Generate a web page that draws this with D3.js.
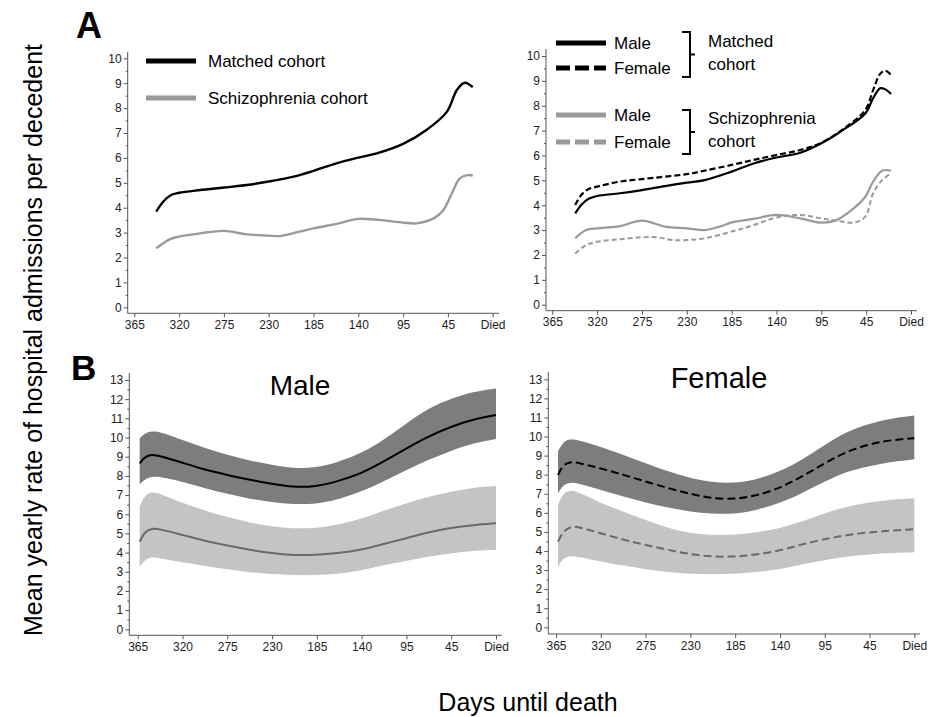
<!DOCTYPE html>
<html>
<head>
<meta charset="utf-8">
<script src="https://cdn.jsdelivr.net/npm/d3@7/dist/d3.min.js"></script>
<style>
  body { margin: 0; background: #fff; }
  svg { display: block; font-family: "Liberation Sans", Arial, Helvetica, sans-serif; }
  .tick text { fill: #222; font-size: 12px; }
  .tick line { stroke: #555; }
</style>
</head>
<body>
<div class="content"></div>
<script>
// tick labels (days until death), "Died" = 0
var dayTicks = [365, 320, 275, 230, 185, 140, 95, 45, 0];

// ---- panel A, left: both sexes
var matchedDaysA = [343,336,328,320,299,275,252,230,205,185,162,140,119,95,69,46,36,28,20];
var matchedA     = [3.84,4.24,4.51,4.60,4.71,4.81,4.91,5.05,5.25,5.48,5.78,6.01,6.21,6.56,7.12,7.86,8.73,9.02,8.84];
var schizDaysA   = [343,329,320,299,275,252,230,219,199,185,162,140,119,95,80,61,50,41,33,25,20];
var schizA       = [2.37,2.74,2.84,2.97,3.07,2.93,2.88,2.86,3.04,3.17,3.35,3.55,3.51,3.40,3.37,3.57,3.91,4.58,5.18,5.31,5.29];

// ---- panel A, right: by sex
var matchedDaysR   = [342,336,329,320,297,275,252,230,212,185,163,140,116,95,71,46,38,31,26,20];
var matchedMaleR   = [3.67,4.01,4.25,4.37,4.48,4.61,4.77,4.91,5.01,5.35,5.68,5.92,6.11,6.49,7.02,7.69,8.30,8.70,8.66,8.47];
var matchedFemaleR = [4.01,4.41,4.64,4.75,4.95,5.05,5.15,5.25,5.39,5.62,5.82,6.02,6.22,6.51,7.05,7.83,8.63,9.28,9.41,9.24];
var schizMaleDaysR = [342,331,320,297,275,252,230,212,197,185,163,140,116,95,78,59,46,38,29,20];
var schizMaleR     = [2.67,3.00,3.07,3.16,3.38,3.14,3.07,3.00,3.14,3.31,3.45,3.61,3.47,3.30,3.40,3.87,4.34,4.95,5.39,5.39];
var schizFemDaysR  = [342,331,320,297,275,260,244,230,212,185,163,140,116,95,78,59,46,38,29,20];
var schizFemaleR   = [2.06,2.40,2.53,2.63,2.71,2.71,2.60,2.60,2.67,2.94,3.20,3.51,3.61,3.47,3.38,3.30,3.54,4.48,5.01,5.28];

// ---- panel B: modelled rates with confidence bands
var daysB = [363,358,351,343,320,297,275,252,230,209,186,165,140,118,95,71,45,23,0];
var maleMatched     = [8.65,9.00,9.12,9.05,8.69,8.31,8.05,7.79,7.58,7.41,7.44,7.70,8.13,8.74,9.44,10.05,10.57,10.95,11.17];
var maleMatchedHi   = [9.96,10.22,10.34,10.31,9.87,9.44,9.09,8.79,8.57,8.39,8.43,8.69,9.18,9.87,10.74,11.52,12.04,12.39,12.56];
var maleMatchedLo   = [7.56,7.82,7.96,7.96,7.70,7.35,7.06,6.80,6.62,6.52,6.53,6.74,7.18,7.70,8.31,8.83,9.32,9.70,9.92];
var maleSchiz       = [4.57,5.09,5.27,5.23,4.92,4.61,4.36,4.14,3.96,3.86,3.87,3.96,4.14,4.45,4.75,5.06,5.30,5.44,5.53];
var maleSchizHi     = [6.40,7.00,7.18,7.09,6.57,6.19,5.84,5.56,5.35,5.25,5.27,5.44,5.75,6.19,6.57,6.92,7.18,7.39,7.47];
var maleSchizLo     = [3.27,3.61,3.79,3.70,3.49,3.30,3.13,2.97,2.87,2.82,2.82,2.87,3.06,3.35,3.56,3.79,3.96,4.10,4.14];
var femaleMatched   = [7.99,8.51,8.68,8.63,8.33,7.99,7.64,7.29,6.99,6.76,6.71,6.88,7.29,7.90,8.60,9.21,9.61,9.82,9.91];
var femaleMatchedHi = [9.21,9.73,9.87,9.82,9.47,9.03,8.60,8.16,7.81,7.60,7.55,7.72,8.16,8.77,9.56,10.26,10.69,10.96,11.10];
var femaleMatchedLo = [7.02,7.46,7.60,7.55,7.20,6.85,6.54,6.27,6.06,5.94,5.94,6.12,6.50,7.02,7.64,8.16,8.46,8.68,8.81];
var femaleSchiz     = [4.49,5.01,5.28,5.28,4.93,4.58,4.32,4.05,3.83,3.70,3.70,3.79,4.02,4.35,4.63,4.84,4.98,5.07,5.14];
var femaleSchizHi   = [6.41,7.02,7.20,7.11,6.50,6.06,5.63,5.19,4.93,4.84,4.84,4.96,5.19,5.54,5.98,6.33,6.55,6.71,6.76];
var femaleSchizLo   = [3.18,3.62,3.76,3.70,3.44,3.23,3.04,2.88,2.80,2.78,2.80,2.88,3.04,3.30,3.53,3.70,3.83,3.91,3.93];

var black = "#000", grey = "#9a9a9a", darkBand = "#7d7d7d", lightBand = "#c4c4c4", bandLine = "#6a6a6a";

var svg = d3.select(".content").append("svg").attr("width", 933).attr("height", 717);
svg.append("rect").attr("width", 933).attr("height", 717).attr("fill", "#fff");

function pairs(xs, ys){
	return xs.map(function(d, i){ return [d, ys[i]]; });
}

// draws axes of one panel, returns its scales
function drawPanel(p){
	var step = (p.xDied - p.x365) / (dayTicks.length - 1);
	var x = d3.scaleLinear().domain(dayTicks).range(dayTicks.map(function(d, i){ return p.x365 + i*step; }));
	var y = d3.scaleLinear().domain([0, p.yMax]).range([p.yZero, p.yTopPx]);
	var g = svg.append("g");

	// y axis
	var ya = g.append("g").attr("transform", "translate(" + p.axisX + ",0)");
	ya.call(d3.axisLeft(y).tickValues(d3.range(0, p.yMax + 1)).tickSize(4).tickSizeOuter(0).tickPadding(2));
	ya.append("g").call(d3.axisLeft(y).tickValues(d3.range(0.5, p.yMax, 1)).tickSize(2).tickFormat(""));
	ya.selectAll(".domain").remove();
	ya.append("line").attr("y1", p.axisTop).attr("y2", p.axisY).attr("stroke", "#555");

	// x axis
	var xa = g.append("g").attr("transform", "translate(0," + p.axisY + ")");
	xa.call(d3.axisBottom(x).tickValues(dayTicks).tickSize(4).tickPadding(3)
		.tickFormat(function(d){ return d === 0 ? "Died" : d; }));
	xa.selectAll(".domain").remove();
	xa.append("line").attr("x1", p.axisX).attr("x2", p.xEnd).attr("stroke", "#555");
	return {x: x, y: y};
}

function line(s, xs, ys, color, width, dash, curve){
	var gen = d3.line().x(function(d){ return s.x(d[0]); }).y(function(d){ return s.y(d[1]); })
		.curve(curve || d3.curveCatmullRom.alpha(0.5));
	svg.append("path").attr("d", gen(pairs(xs, ys)))
		.attr("fill", "none").attr("stroke", color).attr("stroke-width", width)
		.attr("stroke-dasharray", dash || null);
}

function band(s, xs, lo, hi, color){
	var gen = d3.area().x(function(d){ return s.x(d[0]); })
		.y0(function(d){ return s.y(d[1]); }).y1(function(d){ return s.y(d[2]); })
		.curve(d3.curveBasis);
	svg.append("path").attr("d", gen(xs.map(function(d, i){ return [d, lo[i], hi[i]]; })))
		.attr("fill", color);
}

// ---------- panel A left
var aL = drawPanel({x365: 134.3, xDied: 492.7, yZero: 307.3, yTopPx: 58.3, yMax: 10,
	axisX: 127.7, axisY: 313.3, axisTop: 52, xEnd: 499});
line(aL, matchedDaysA, matchedA, black, 2.4);
line(aL, schizDaysA, schizA, grey, 2.4);

// legend
svg.append("line").attr("x1", 146).attr("x2", 196).attr("y1", 61).attr("y2", 61).attr("stroke", black).attr("stroke-width", 5);
svg.append("text").attr("x", 208).attr("y", 67).attr("font-size", 17).text("Matched cohort");
svg.append("line").attr("x1", 146).attr("x2", 196).attr("y1", 98).attr("y2", 98).attr("stroke", grey).attr("stroke-width", 5);
svg.append("text").attr("x", 208).attr("y", 104).attr("font-size", 17).text("Schizophrenia cohort");

// ---------- panel A right
var aR = drawPanel({x365: 552.3, xDied: 911, yZero: 304.7, yTopPx: 56, yMax: 10,
	axisX: 546, axisY: 310.7, axisTop: 49, xEnd: 917});
line(aR, schizFemDaysR, schizFemaleR, grey, 2, "5,3");
line(aR, schizMaleDaysR, schizMaleR, grey, 2.2);
line(aR, matchedDaysR, matchedFemaleR, black, 2.2, "6,3");
line(aR, matchedDaysR, matchedMaleR, black, 2.2);

// legend with brackets
var legR = [
	{y: 43, color: black, dash: null, label: "Male"},
	{y: 68, color: black, dash: "14,5", label: "Female"},
	{y: 115, color: grey, dash: null, label: "Male"},
	{y: 142, color: grey, dash: "14,5", label: "Female"}
];
legR.forEach(function(d){
	svg.append("line").attr("x1", 556).attr("x2", 606).attr("y1", d.y).attr("y2", d.y)
		.attr("stroke", d.color).attr("stroke-width", 5).attr("stroke-dasharray", d.dash);
	svg.append("text").attr("x", 614).attr("y", d.y + 6).attr("font-size", 17).text(d.label);
});
function bracket(top, bottom){
	var xr = 690, mid = (top + bottom) / 2;
	svg.append("path")
		.attr("d", "M" + (xr - 8) + "," + top + " L" + xr + "," + top + " L" + xr + "," + bottom + " L" + (xr - 8) + "," + bottom
			+ " M" + xr + "," + mid + " L" + (xr + 5) + "," + mid)
		.attr("fill", "none").attr("stroke", "#000").attr("stroke-width", 2);
}
bracket(32, 77);
bracket(110, 154);
svg.append("text").attr("x", 708).attr("y", 47).attr("font-size", 17).text("Matched");
svg.append("text").attr("x", 708).attr("y", 70).attr("font-size", 17).text("cohort");
svg.append("text").attr("x", 708).attr("y", 124).attr("font-size", 17).text("Schizophrenia");
svg.append("text").attr("x", 708).attr("y", 147).attr("font-size", 17).text("cohort");

// ---------- panel B left (Male)
var bL = drawPanel({x365: 137.7, xDied: 496, yZero: 629.3, yTopPx: 380, yMax: 13,
	axisX: 129.3, axisY: 635.3, axisTop: 373, xEnd: 501.7});
band(bL, daysB, maleMatchedLo, maleMatchedHi, darkBand);
band(bL, daysB, maleSchizLo, maleSchizHi, lightBand);
line(bL, daysB, maleMatched, black, 2, null, d3.curveBasis);
line(bL, daysB, maleSchiz, bandLine, 2, null, d3.curveBasis);
svg.append("text").attr("x", 300).attr("y", 395).attr("font-size", 28).attr("text-anchor", "middle").text("Male");

// ---------- panel B right (Female)
var bR = drawPanel({x365: 556, xDied: 914.3, yZero: 627.3, yTopPx: 379.3, yMax: 13,
	axisX: 548.3, axisY: 634, axisTop: 372, xEnd: 920});
band(bR, daysB, femaleMatchedLo, femaleMatchedHi, darkBand);
band(bR, daysB, femaleSchizLo, femaleSchizHi, lightBand);
line(bR, daysB, femaleMatched, black, 2, "8,4", d3.curveBasis);
line(bR, daysB, femaleSchiz, bandLine, 2, "8,4", d3.curveBasis);
svg.append("text").attr("x", 719).attr("y", 388).attr("font-size", 29).attr("text-anchor", "middle").text("Female");

// panel letters
svg.append("text").attr("x", 76).attr("y", 38).attr("font-size", 36).attr("font-weight", "bold").text("A");
svg.append("text").attr("x", 71).attr("y", 380).attr("font-size", 35).attr("font-weight", "bold").text("B");

// shared axis titles
svg.append("text").attr("transform", "translate(42,340) rotate(-90)").attr("text-anchor", "middle")
	.attr("font-size", 25).text("Mean yearly rate of hospital admissions per decedent");
svg.append("text").attr("x", 528).attr("y", 711).attr("text-anchor", "middle")
	.attr("font-size", 25).text("Days until death");
</script>
</body>
</html>
